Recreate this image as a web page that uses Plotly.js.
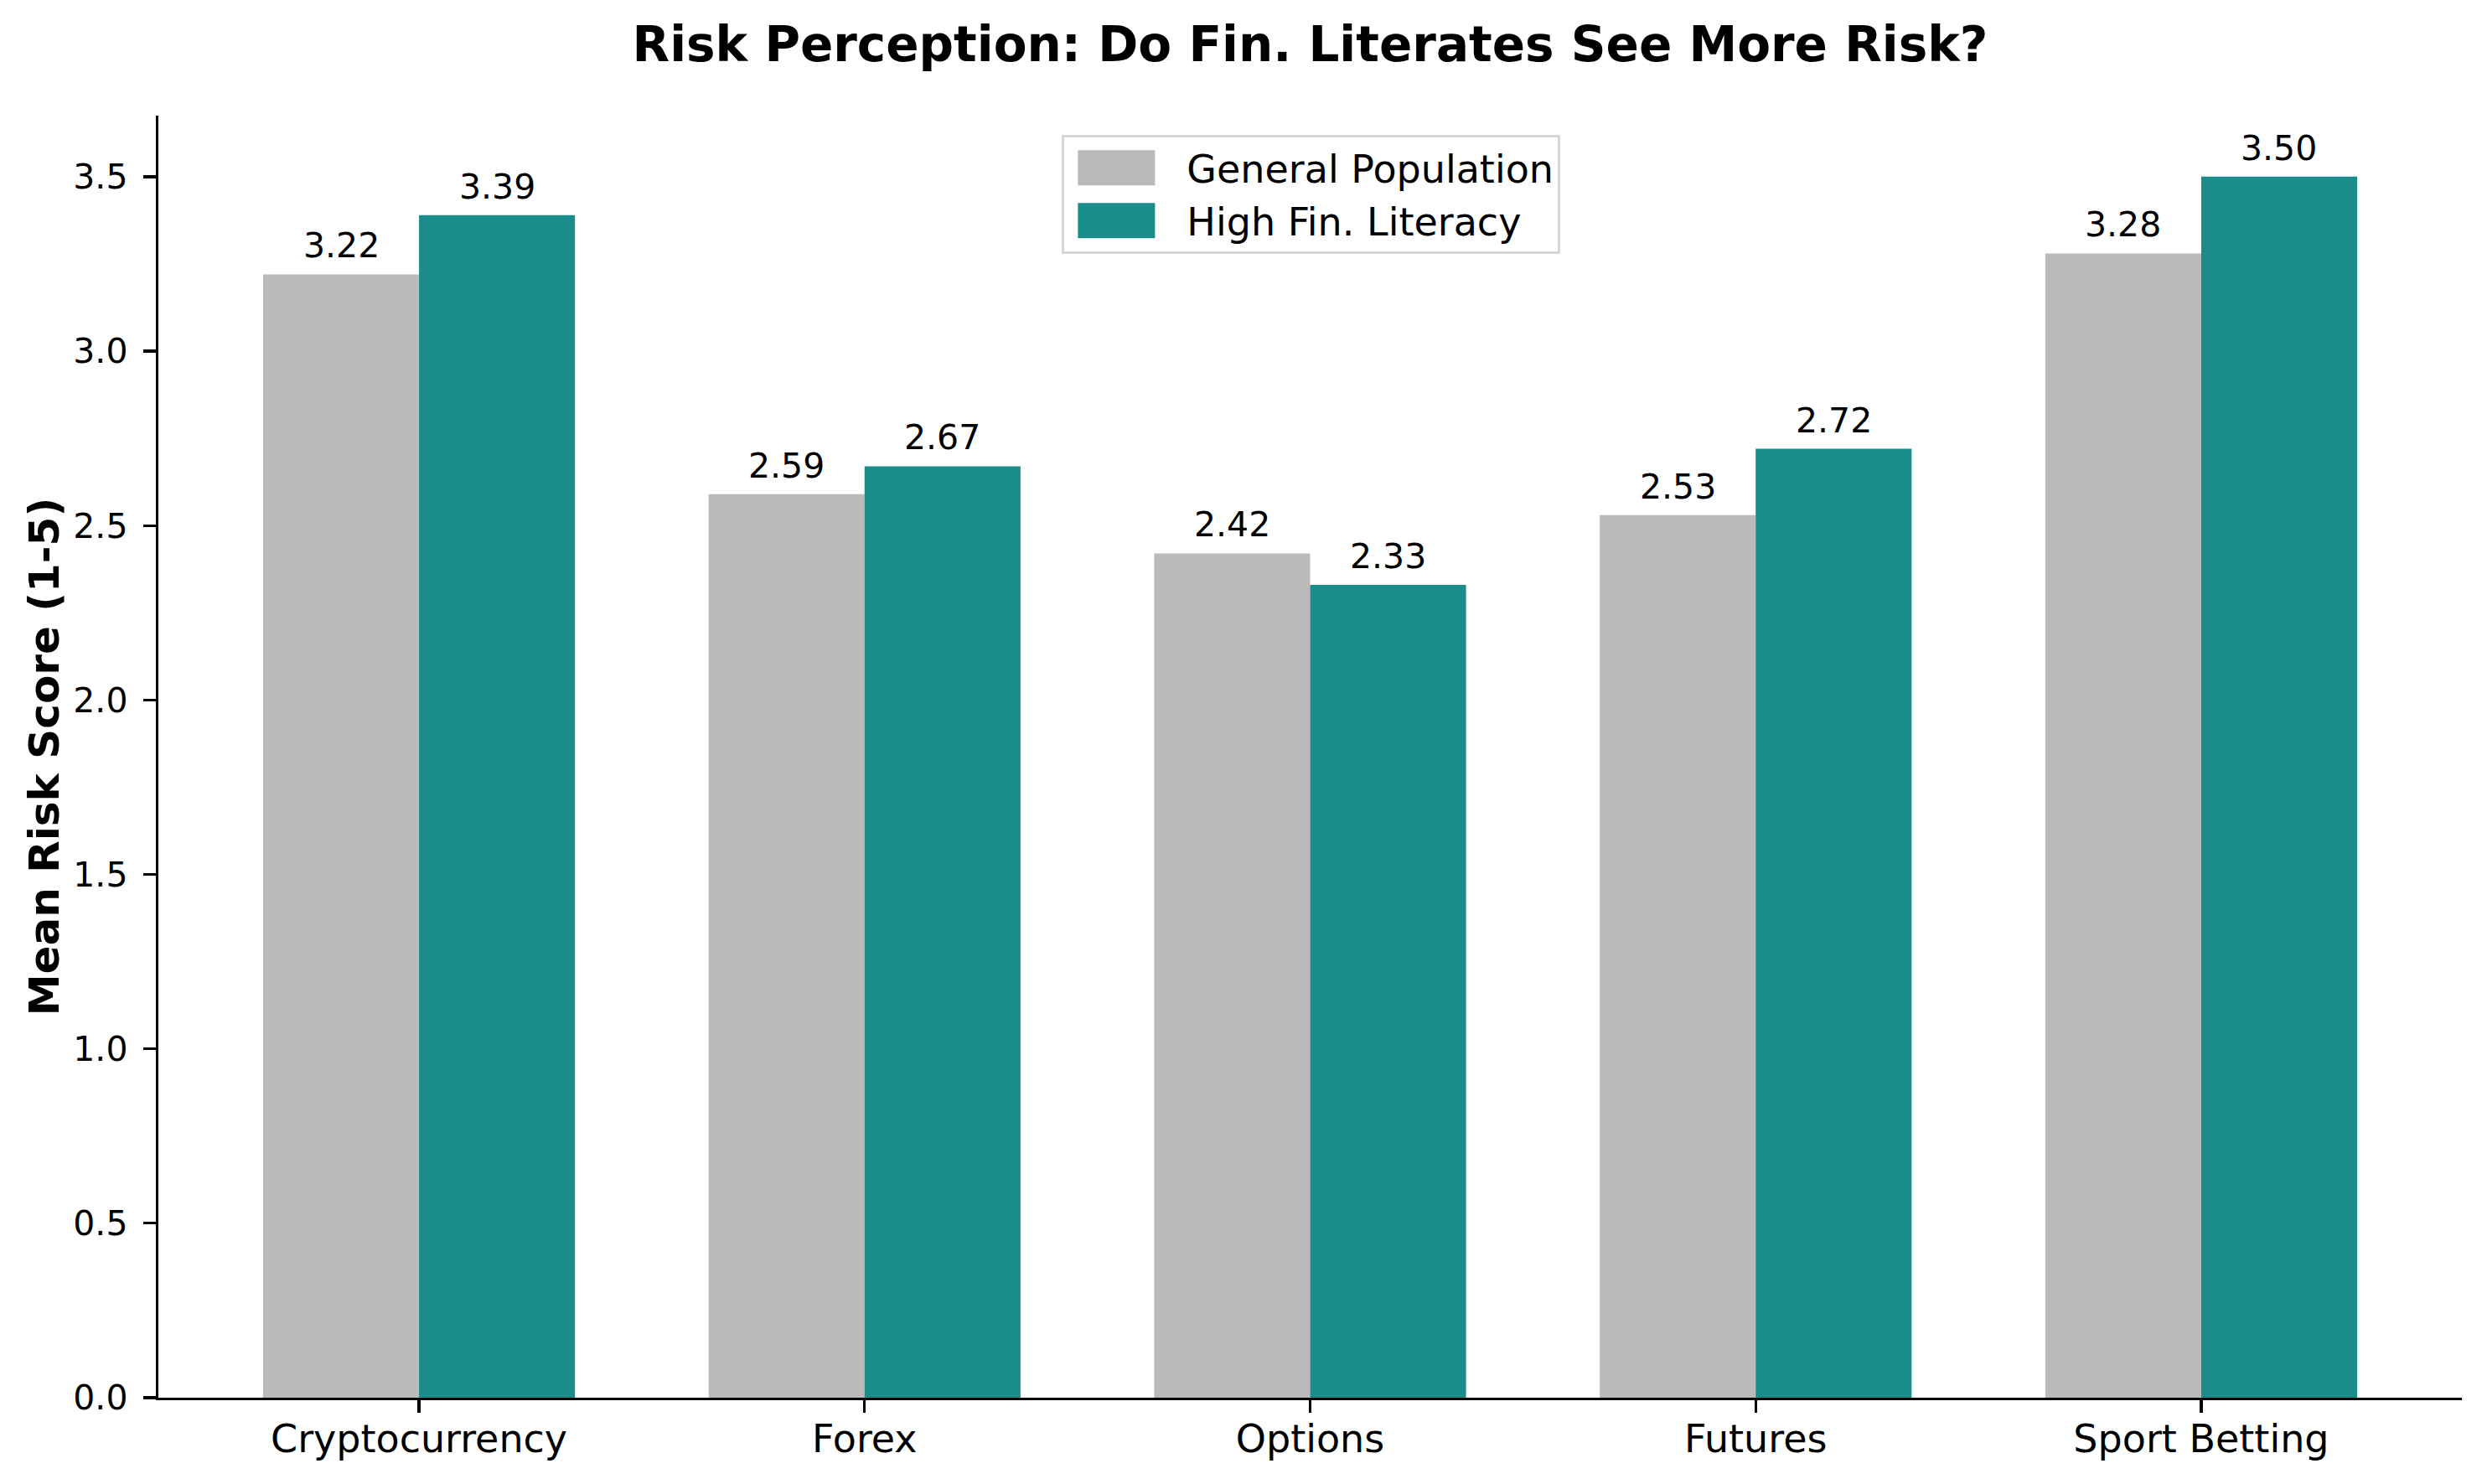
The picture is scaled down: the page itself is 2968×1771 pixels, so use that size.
<!DOCTYPE html>
<html>
<head>
<meta charset="utf-8">
<script src="https://cdn.plot.ly/plotly-3.0.1.min.js"></script>
<style>html,body{margin:0;padding:0;background:#fff;}#chart{width:2968px;height:1771px;}</style>
</head>
<body>
<div id="chart"></div>
<script>
const categories = ["Cryptocurrency", "Forex", "Options", "Futures", "Sport Betting"];
const generalPopulation = [3.22, 2.59, 2.42, 2.53, 3.28];
const highFinLiteracy = [3.39, 2.67, 2.33, 2.72, 3.50];
const seriesNames = ["General Population", "High Fin. Literacy"];
const yTickValues = [0, 0.5, 1, 1.5, 2, 2.5, 3, 3.5];

const FONT = "DejaVu Sans, Verdana, sans-serif";
const COLORS = ["#bababa", "#1a8c8a"];
const BAR_W = 0.35;
const seriesValues = [generalPopulation, highFinLiteracy];

const traces = seriesValues.map((vals, s) => ({
  type: "bar", name: seriesNames[s], x: categories, y: vals,
  legendgroup: "g" + s,
  marker: {color: COLORS[s], line: {width: 0}},
  hoverinfo: "skip"
}));

const annotations = [];
seriesValues.forEach((vals, s) => {
  vals.forEach((v, i) => {
    annotations.push({
      xref: "x", yref: "y", x: i + (s === 0 ? -BAR_W / 2 : BAR_W / 2), y: v,
      text: v.toFixed(2), showarrow: false, xanchor: "center", yanchor: "bottom",
      yshift: 8, font: {family: FONT, size: 41, color: "#000"}
    });
  });
});

const layout = {
  width: 2968, height: 1771,
  paper_bgcolor: "#fff", plot_bgcolor: "#fff",
  font: {family: FONT, color: "#000"},
  margin: {l: 189, r: 30, t: 138, b: 103, pad: 0},
  barmode: "group", bargap: 1 - 2 * BAR_W, bargroupgap: 0,
  title: {
    text: "<b>Risk Perception: Do Fin. Literates See More Risk?</b>",
    font: {family: FONT, size: 58, color: "#000"},
    x: 0.5, xref: "paper", xanchor: "center",
    y: 1 - 53 / 1771, yref: "container", yanchor: "middle"
  },
  xaxis: {
    type: "category", range: [-0.585, 4.585],
    showline: true, linecolor: "#000", linewidth: 3.3,
    ticks: "outside", ticklen: 15, tickwidth: 3.3, tickcolor: "#000",
    tickfont: {family: FONT, size: 46, color: "#000"},
    ticklabelstandoff: -9,
    showgrid: false, zeroline: false, fixedrange: true
  },
  yaxis: {
    range: [0, 3.675], tickmode: "array", tickvals: yTickValues,
    ticktext: yTickValues.map(v => v.toFixed(1)),
    showline: true, linecolor: "#000", linewidth: 3.3,
    ticks: "outside", ticklen: 15, tickwidth: 3.3, tickcolor: "#000",
    tickfont: {family: FONT, size: 41, color: "#000"},
    ticklabelstandoff: 10,
    showgrid: false, zeroline: false, fixedrange: true,
    title: {text: "<b>Mean Risk Score (1-5)</b>", font: {family: FONT, size: 50, color: "#000"}, standoff: 1}
  },
  legend: {
    x: 0.5005, xanchor: "center", y: 0.985, yanchor: "top",
    bgcolor: "#fff", bordercolor: "#d6d6d6", borderwidth: 3,
    font: {family: FONT, size: 46, color: "#000"},
    itemwidth: 136, tracegroupgap: 6, traceorder: "normal"
  },
  annotations: annotations,
  showlegend: true
};

Plotly.newPlot("chart", traces, layout, {displayModeBar: false, staticPlot: true}).then(gd => {
  try {
    gd.querySelectorAll(".legend .traces").forEach(tg => {
      const txt = tg.querySelector(".legendtext");
      const path = tg.querySelector(".legendpoints path");
      if (!txt || !path) return;
      const tx = parseFloat(txt.getAttribute("x")) || 0;
      const tgM = tg.getCTM(), pM = path.getCTM();
      const dx = pM.e - tgM.e, dy = pM.f - tgM.f;
      const x0 = tx - 130 - dx, x1 = tx - 38 - dx, y0 = -21 - dy, y1 = 21 - dy;
      path.setAttribute("d", `M${x0},${y0}H${x1}V${y1}H${x0}Z`);
      path.style.strokeWidth = "0px";
    });
  } catch (e) {}
});
</script>
</body>
</html>
